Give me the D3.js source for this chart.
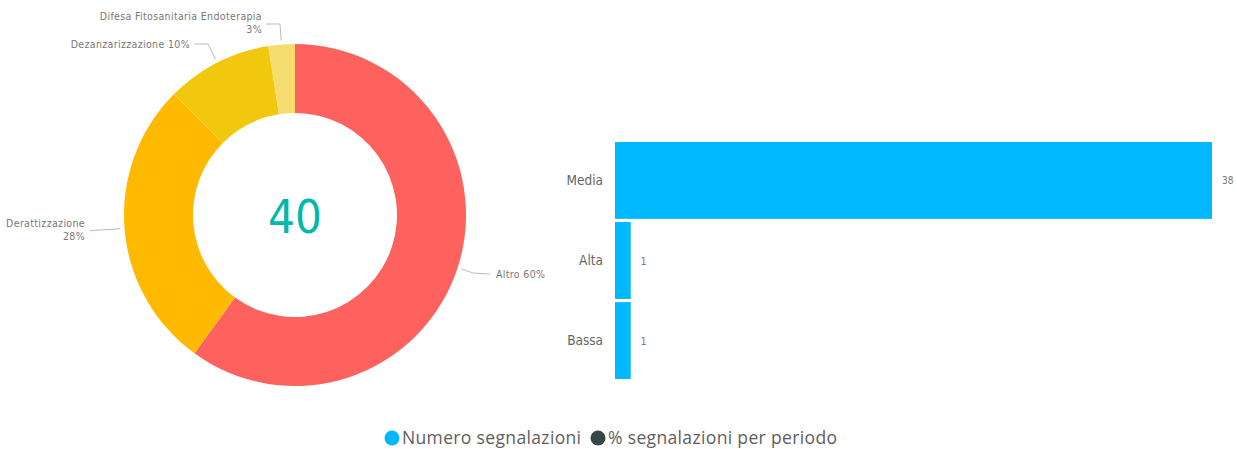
<!DOCTYPE html>
<html lang="it">
<head>
<meta charset="utf-8">
<title>Segnalazioni</title>
<script src="https://d3js.org/d3.v7.min.js"></script>
<style>
  body { margin: 0; background: #fff; }
  text { font-family: "DejaVu Sans Condensed", "Roboto", sans-serif; }
</style>
</head>
<body>
<script>
// donut data
var tipi = ["Altro", "Derattizzazione", "Dezanzarizzazione", "Difesa Fitosanitaria Endoterapia"];
var conteggi = [24, 11, 4, 1];
var percentuali = ["60%", "28%", "10%", "3%"];
var coloriTorta = ["#FD625E", "#FFB900", "#F2C80F", "#F5DC6E"];

// bar data
var priorita = ["Media", "Alta", "Bassa"];
var segnalazioni = [38, 1, 1];

// legend
var voci = ["Numero segnalazioni", "% segnalazioni per periodo"];
var coloriLegenda = ["#01B8FF", "#374649"];

var w = 1237, h = 449;
var svg = d3.select("body").append("svg").attr("width", w).attr("height", h);

// ---- donut ----
var cx = 295, cy = 215, rOut = 171, rIn = 102;
var g = svg.append("g").attr("transform", "translate(" + cx + "," + cy + ")");
var pie = d3.pie().sort(null).value(function(d) { return d; });
var arcs = pie(conteggi);
var arc = d3.arc().innerRadius(rIn).outerRadius(rOut);

g.selectAll("path").data(arcs).enter().append("path")
  .attr("d", arc)
  .attr("fill", function(d, i) { return coloriTorta[i]; });

g.append("text").attr("x", 0).attr("y", 18).attr("text-anchor", "middle")
  .style("font-size", "47px").attr("fill", "#01B8AA").text(d3.sum(conteggi));

// leader lines + labels
var lblColor = "#777";
var lineColor = "#bbb";
function lbl(lines, x, y, anchor) {
  var t = svg.append("text").attr("text-anchor", anchor)
    .style("font-size", "10.5px").style("letter-spacing", "0.35px").attr("fill", lblColor);
  lines.forEach(function(s, k) {
    t.append("tspan").attr("x", x).attr("y", y + k * 13).text(s);
  });
}
var outerArc = d3.arc().innerRadius(rOut + 4).outerRadius(rOut + 4);
function pt(i) { var c = outerArc.centroid(arcs[i]); return [cx + c[0], cy + c[1]]; }

// Altro
var p0 = pt(0);
svg.append("polyline").attr("points", [[p0[0], p0[1]], [p0[0] + 12, p0[1] + 4], [490, p0[1] + 5]].join(" "))
  .attr("fill", "none").attr("stroke", lineColor);
lbl([tipi[0] + " " + percentuali[0]], 496, p0[1] + 9, "start");

// Derattizzazione
var p1 = pt(1);
svg.append("polyline").attr("points", [[p1[0], p1[1]], [105, p1[1] + 1], [90, p1[1] + 2]].join(" "))
  .attr("fill", "none").attr("stroke", lineColor);
lbl([tipi[1], percentuali[1]], 85, p1[1] - 2, "end");

// Dezanzarizzazione
var p2 = pt(2);
svg.append("polyline").attr("points", [[p2[0], p2[1]], [208, 44], [194, 44]].join(" "))
  .attr("fill", "none").attr("stroke", lineColor);
lbl([tipi[2] + " " + percentuali[2]], 190, 48, "end");

// Difesa
var p3 = pt(3);
svg.append("polyline").attr("points", [[p3[0], p3[1]], [280, 24], [266, 24]].join(" "))
  .attr("fill", "none").attr("stroke", lineColor);
lbl([tipi[3], percentuali[3]], 262, 20, "end");

// ---- bar chart ----
var x = d3.scaleLinear().domain([0, d3.max(segnalazioni)]).range([615, 1212]);
var y = d3.scaleBand().domain(priorita).range([142, 379]).paddingInner(0.04).paddingOuter(0);

svg.selectAll("rect.bar").data(segnalazioni).enter().append("rect")
  .attr("class", "bar")
  .attr("x", x(0))
  .attr("y", function(d, i) { return y(priorita[i]); })
  .attr("width", function(d) { return x(d) - x(0); })
  .attr("height", y.bandwidth())
  .attr("fill", coloriLegenda[0]);

var yAxis = d3.axisLeft(y).tickSize(0).tickPadding(12);
var ya = svg.append("g").attr("transform", "translate(" + x(0) + ",0)").call(yAxis);
ya.select(".domain").remove();
ya.selectAll("text").style("font-size", "13.5px").attr("fill", "#666")
  .style("font-family", "'DejaVu Sans Condensed', Roboto, sans-serif");

svg.selectAll("text.val").data(segnalazioni).enter().append("text")
  .attr("class", "val")
  .attr("x", function(d) { return x(d) + 10; })
  .attr("y", function(d, i) { return y(priorita[i]) + y.bandwidth() / 2 + 4; })
  .style("font-size", "10px").attr("fill", "#777")
  .text(function(d) { return d; });

// ---- legend ----
var leg = svg.append("g");
var lx = [392, 598];
voci.forEach(function(v, i) {
  leg.append("circle").attr("cx", lx[i]).attr("cy", 438).attr("r", 7.5).attr("fill", coloriLegenda[i]);
  leg.append("text").attr("x", lx[i] + 10).attr("y", 444)
    .style("font-family", "'Open Sans', 'Noto Sans', sans-serif")
    .style("font-size", "17.5px").style("letter-spacing", "0.35px").attr("fill", "#605E5C").text(v);
});
</script>
</body>
</html>
